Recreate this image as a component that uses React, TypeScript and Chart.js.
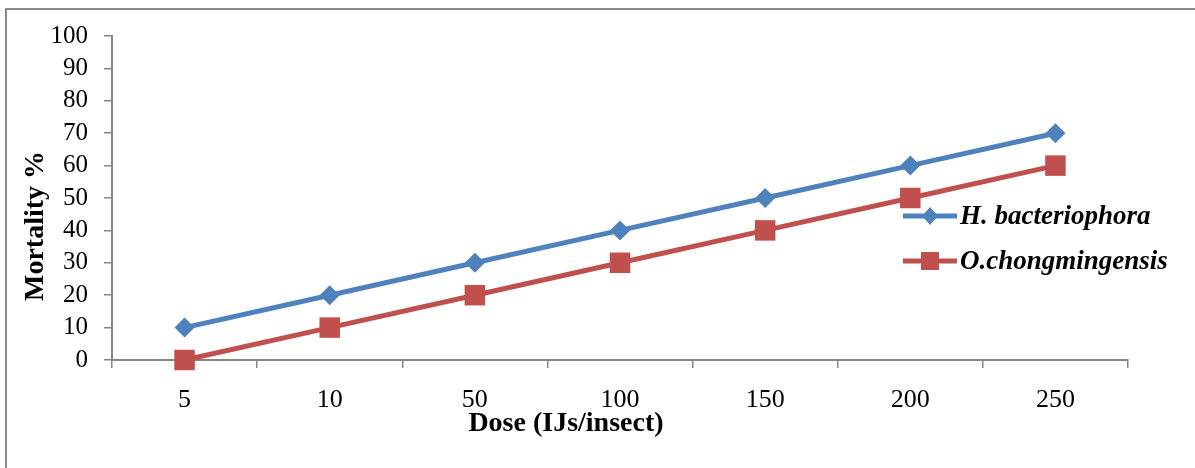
import React, { useEffect, useRef } from "react";
import { Chart, registerables } from "chart.js";

Chart.register(...registerables);

const doses = ["5", "10", "50", "100", "150", "200", "250"];
const hBacteriophora = [10, 20, 30, 40, 50, 60, 70];
const oChongmingensis = [0, 10, 20, 30, 40, 50, 60];
const seriesNames = ["H. bacteriophora", "O.chongmingensis"];
const xTitle = "Dose (IJs/insect)";
const yTitle = "Mortality %";

const BLUE = "#4F81BD";
const RED = "#C0504D";
const AXIS = "#868686";
const FONT = "'Liberation Serif', 'Times New Roman', serif";

const overlayPlugin = {
  id: "overlay",
  afterDraw(chart: any) {
    const ctx = chart.ctx;
    ctx.save();
    ctx.fillStyle = "#000";
    // X title
    ctx.font = `bold 28px ${FONT}`;
    ctx.textAlign = "center";
    ctx.textBaseline = "alphabetic";
    ctx.fillText(xTitle, 566, 431);
    // Y title
    ctx.save();
    ctx.translate(43, 226);
    ctx.rotate(-Math.PI / 2);
    ctx.fillText(yTitle, 0, 0);
    ctx.restore();

    // Legend
    const rows = [
      { name: seriesNames[0], color: BLUE, y: 216, shape: "diamond" },
      { name: seriesNames[1], color: RED, y: 261, shape: "square" },
    ];
    rows.forEach((r) => {
      ctx.strokeStyle = r.color;
      ctx.lineWidth = 5;
      ctx.beginPath();
      ctx.moveTo(903, r.y);
      ctx.lineTo(957, r.y);
      ctx.stroke();
      ctx.fillStyle = r.color;
      ctx.beginPath();
      if (r.shape === "diamond") {
        ctx.moveTo(930, r.y - 9);
        ctx.lineTo(938, r.y);
        ctx.lineTo(930, r.y + 9);
        ctx.lineTo(922, r.y);
        ctx.closePath();
      } else {
        ctx.rect(921, r.y - 9, 18, 18);
      }
      ctx.fill();
      ctx.fillStyle = "#000";
      ctx.font = `italic bold 27px ${FONT}`;
      ctx.textAlign = "left";
      ctx.textBaseline = "middle";
      ctx.fillText(r.name, 960, r.y + 1);
    });
    ctx.restore();
  },
};

export default function App() {
  const ref = useRef<HTMLCanvasElement | null>(null);

  useEffect(() => {
    if (!ref.current) return;
    const chart = new Chart(ref.current, {
      type: "line",
      data: {
        labels: doses,
        datasets: [
          {
            label: seriesNames[0],
            data: hBacteriophora,
            borderColor: BLUE,
            backgroundColor: BLUE,
            borderWidth: 5,
            pointStyle: "rectRot",
            pointRadius: 10,
            pointBorderWidth: 0,
            tension: 0,
            clip: false,
          },
          {
            label: seriesNames[1],
            data: oChongmingensis,
            borderColor: RED,
            backgroundColor: RED,
            borderWidth: 5,
            pointStyle: "rect",
            pointRadius: 14.5,
            pointBorderWidth: 0,
            tension: 0,
            clip: false,
          },
        ],
      },
      options: {
        animation: false,
        responsive: false,
        maintainAspectRatio: false,
        devicePixelRatio: 1,
        layout: { padding: { left: 0, right: 67, top: 36, bottom: 0 } },
        plugins: {
          legend: { display: false },
          tooltip: { enabled: false },
        },
        scales: {
          x: {
            type: "category",
            offset: true,
            afterFit: (s: any) => {
              s.height = 108;
            },
            grid: {
              offset: true,
              drawOnChartArea: false,
              drawTicks: true,
              tickLength: 8,
              color: AXIS,
              lineWidth: 1.5,
            },
            border: { color: AXIS, width: 2 },
            ticks: {
              color: "#000",
              padding: 17,
              autoSkip: false,
              font: { family: FONT, size: 26 },
              maxRotation: 0,
            },
          },
          y: {
            min: 0,
            max: 100,
            afterFit: (s: any) => {
              s.width = 112;
            },
            grid: {
              drawOnChartArea: false,
              drawTicks: true,
              tickLength: 8,
              color: AXIS,
              lineWidth: 1.5,
            },
            border: { color: AXIS, width: 2 },
            ticks: {
              stepSize: 10,
              autoSkip: false,
              color: "#000",
              padding: 16,
              font: { family: FONT, size: 25 },
            },
          },
        },
      },
      plugins: [overlayPlugin],
    });
    return () => chart.destroy();
  }, []);

  return (
    <div
      style={{
        position: "fixed",
        left: 0,
        top: 0,
        width: 1195,
        height: 468,
        overflow: "hidden",
        background: "#fff",
      }}
    >
      <div
        style={{
          position: "absolute",
          left: 5,
          top: 8,
          width: 1300,
          height: 600,
          border: "2px solid #8a8a8a",
        }}
      />
      <canvas
        ref={ref}
        width={1195}
        height={468}
        style={{ position: "absolute", left: 0, top: 0, width: 1195, height: 468 }}
      />
    </div>
  );
}
